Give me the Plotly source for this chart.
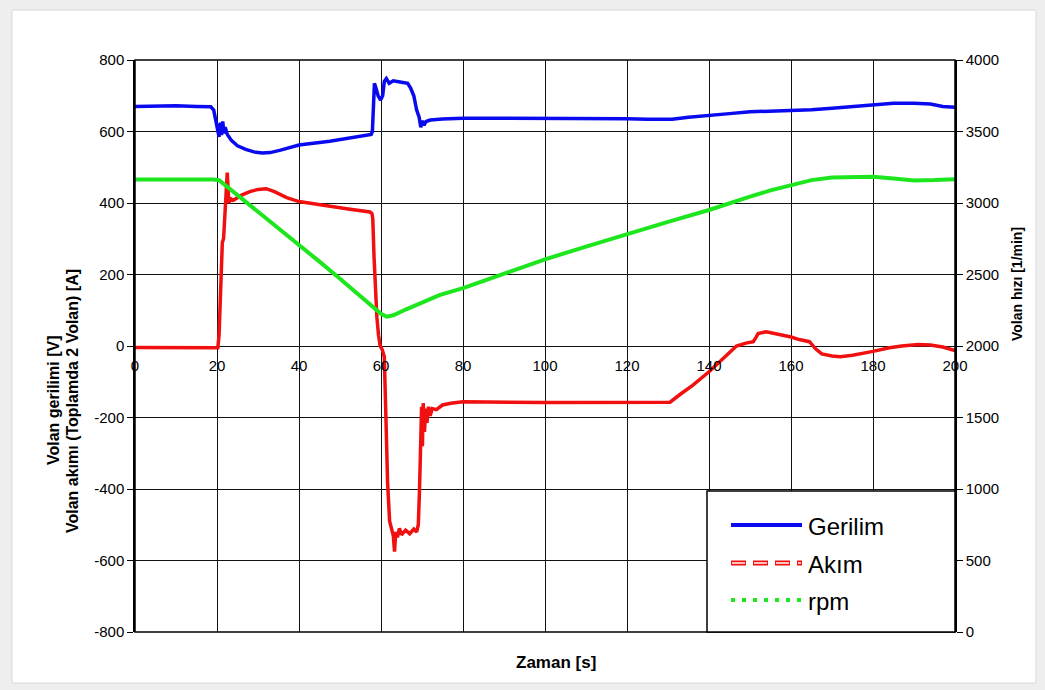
import plotly.graph_objects as go

# Gerilim (voltage) [V] - left axis
t_volt = [0, 5, 10, 15, 18.5, 19.2, 19.7, 20.2, 20.5, 20.8, 21.1, 21.4, 21.7, 22.0, 22.5, 23.5,
          25, 27, 29, 31, 33, 35.5, 40, 47.5, 52, 57.6, 57.9, 58.1, 58.4, 58.8, 59.3, 59.9, 60.4,
          60.8, 61.3, 62, 63, 65, 66.5, 67.2, 68, 68.7, 69.3, 69.7, 70.1, 70.5, 71, 72, 75, 80,
          100, 120, 125, 131, 135, 140, 145, 150, 155, 160, 165, 170, 175, 180, 185, 190, 194,
          197, 200]
volt = [670, 671, 672, 670, 669, 660, 630, 610, 585, 625, 590, 628, 595, 612, 592, 575,
        560, 550, 543, 540, 541, 548, 562, 573, 582, 592, 600, 690, 735, 720, 700, 688, 700,
        740, 748, 735, 742, 738, 735, 722, 700, 660, 640, 612, 630, 618, 628, 632, 635, 637,
        637, 636, 634, 634, 640, 646, 650, 655, 657, 658, 661, 665, 670, 674, 679, 679, 677,
        670, 668]

# Akım (current) [A] - left axis
t_curr = [0, 10, 19, 20.2, 20.5, 20.8, 21.0, 21.3, 21.6, 22.0, 22.3, 22.5, 22.7, 22.9, 23.3, 24,
          26, 28, 30, 32, 34, 37, 40, 44, 48, 52, 55, 57.3, 57.8, 58.0, 58.3, 58.6, 59.0, 59.4,
          59.8, 60.3, 60.8, 61.2, 61.6, 62.1, 62.5, 63.0, 63.3, 63.6, 64, 64.5, 65, 66, 67, 68,
          68.7, 69.1, 69.4, 69.7, 69.9, 70.1, 70.3, 70.6, 70.9, 71.2, 71.6, 72, 72.5, 73.5, 75,
          77, 80, 100, 120, 130.5, 133, 136, 140, 143, 146.7, 149, 150.8, 151.5, 152, 154, 157,
          160, 162, 164.5, 166, 167.5, 170, 172, 175, 178, 180, 184, 187, 191, 194, 197, 200]
curr = [-4, -5, -6, -5, 30, 160, 200, 290, 300, 400, 470, 485, 440, 400, 412, 408,
        422, 432, 438, 440, 432, 415, 404, 398, 390, 383, 378, 375, 370, 355, 250, 150, 80, 30,
        0, -10, -30, -200, -380, -490, -505, -530, -575, -520, -535, -510, -528, -515, -525, -512,
        -520, -500, -400, -250, -170, -280, -160, -240, -175, -215, -170, -195, -175, -178, -165,
        -160, -156, -158, -158, -157, -135, -110, -72, -40, 0, 8, 12, 25, 35, 40, 33,
        25, 18, 12, -8, -22, -28, -30, -26, -20, -15, -5, 0, 4, 3, -3, -13]

# rpm [1/min] - right axis
t_rpm = [0, 10, 19, 20.5, 22, 25, 30, 35, 40, 45, 50, 55, 58, 60, 61.4, 63, 66, 70, 74.4, 80,
         90, 100, 110, 120, 130, 140, 145, 150, 155, 160, 165, 170, 175, 180, 185, 190, 195, 200]
rpm = [3165, 3168, 3165, 3160, 3125, 3060, 2945, 2830, 2710, 2590, 2470, 2350, 2275, 2225, 2205,
       2215, 2255, 2300, 2357, 2405, 2505, 2606, 2695, 2783, 2868, 2951, 3000, 3045, 3088, 3126,
       3160, 3178, 3184, 3184, 3172, 3158, 3160, 3166]

# tick labels (Excel style, plain hyphen minus)
left_ticks = [-800, -600, -400, -200, 0, 200, 400, 600, 800]
left_ticktext = [str(v) for v in left_ticks]

legend_names = ["Gerilim", "Akım", "rpm"]

FONT = "Liberation Sans, Arial, sans-serif"
BLUE = "#0a0af0"
RED = "#f01010"
GREEN = "#1ee61e"

fig = go.Figure()
fig.add_trace(go.Scatter(x=t_volt, y=volt, mode="lines", name=legend_names[0],
                         line=dict(color=BLUE, width=3.5), showlegend=False))
fig.add_trace(go.Scatter(x=t_curr, y=curr, mode="lines", name=legend_names[1],
                         line=dict(color=RED, width=3.5), showlegend=False))
fig.add_trace(go.Scatter(x=t_rpm, y=rpm, mode="lines", name=legend_names[2], yaxis="y2",
                         line=dict(color=GREEN, width=4), showlegend=False))


def px(x):
    return (x - 135) / 820


def py(y):
    return (632 - y) / 572


legend_rows = [525, 563, 600]

shapes = [
    # outer white panel
    dict(type="rect", xref="paper", yref="paper", x0=px(12), x1=px(1036), y0=py(683), y1=py(10),
         fillcolor="white", line=dict(color="#d9d9d9", width=1), layer="below"),
    # plot frame
    dict(type="rect", xref="paper", yref="paper", x0=0, x1=1, y0=0, y1=1,
         line=dict(color="black", width=1.5), layer="above"),
    # legend box
    dict(type="rect", xref="paper", yref="paper", x0=px(707), x1=1, y0=0, y1=py(491),
         fillcolor="white", line=dict(color="black", width=1.5), layer="above"),
    dict(type="line", xref="paper", yref="paper", x0=px(731), x1=px(802),
         y0=py(legend_rows[0]), y1=py(legend_rows[0]),
         line=dict(color=BLUE, width=4), layer="above"),
    dict(type="line", xref="paper", yref="paper", x0=px(731), x1=px(802),
         y0=py(legend_rows[1]), y1=py(legend_rows[1]),
         line=dict(color=RED, width=5, dash="15px,7px"), layer="above"),
    dict(type="line", xref="paper", yref="paper", x0=px(732), x1=px(801),
         y0=py(legend_rows[1]), y1=py(legend_rows[1]),
         line=dict(color="#ffc0c0", width=2, dash="13px,9px"), layer="above"),
    dict(type="line", xref="paper", yref="paper", x0=px(731), x1=px(802),
         y0=py(legend_rows[2]), y1=py(legend_rows[2]),
         line=dict(color=GREEN, width=4, dash="4px,7px"), layer="above"),
]

annotations = [
    dict(text="<b>Volan gerilimi [V]</b>", x=px(53), y=py(400), textangle=-90,
         font=dict(size=16, color="black", family=FONT)),
    dict(text="<b>Volan akımı (Toplamda 2 Volan) [A]</b>", x=px(72), y=py(401), textangle=-90,
         font=dict(size=16, color="black", family=FONT)),
    dict(text="<b>Volan hızı [1/min]</b>", x=px(1017), y=py(284), textangle=-90,
         font=dict(size=14, color="black", family=FONT)),
    dict(text="<b>Zaman [s]</b>", x=px(556), y=py(662),
         font=dict(size=17, color="black", family=FONT)),
]
for a in annotations:
    a.update(xanchor="center")
for i, name in enumerate(legend_names):
    annotations.append(dict(text=name, x=px(806), y=py(legend_rows[i] + 1), xanchor="left",
                            font=dict(size=24, color="black", family=FONT)))
for a in annotations:
    a.update(xref="paper", yref="paper", yanchor="middle", showarrow=False)

fig.update_layout(
    width=1045,
    height=690,
    margin=dict(l=135, r=90, t=60, b=58),
    paper_bgcolor="#eeeeee",
    plot_bgcolor="white",
    font=dict(family=FONT, size=15, color="black"),
    showlegend=False,
    shapes=shapes,
    annotations=annotations,
    xaxis=dict(range=[0, 200], dtick=20, showgrid=True, gridcolor="#111111", gridwidth=1,
               zeroline=False, showline=False, anchor="free", position=0.5,
               ticks="outside", ticklen=6, tickcolor="rgba(0,0,0,0)",
               tickfont=dict(size=15)),
    yaxis=dict(range=[-800, 800], tickmode="array", tickvals=left_ticks, ticktext=left_ticktext,
               showgrid=True, gridcolor="#111111", gridwidth=1,
               zeroline=False, showline=True, linecolor="black", linewidth=1.5,
               ticks="outside", ticklen=6, tickcolor="black", tickfont=dict(size=15)),
    yaxis2=dict(range=[0, 4000], dtick=500, overlaying="y", side="right", showgrid=False,
                zeroline=False, showline=True, linecolor="black", linewidth=1.5,
                ticks="outside", ticklen=6, tickcolor="black", tickfont=dict(size=15)),
)

fig.write_html("out.html", config={"displayModeBar": False},
               post_script="document.body.style.margin='0';")
